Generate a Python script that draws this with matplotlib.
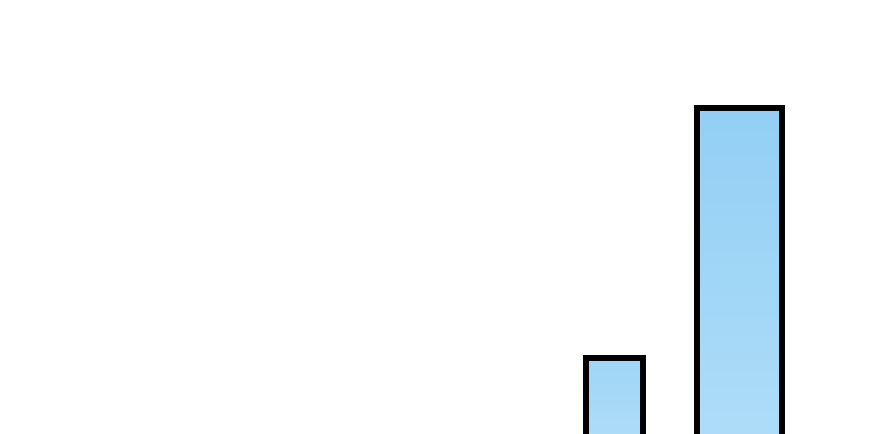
import numpy as np
import matplotlib.pyplot as plt
from matplotlib.colors import LinearSegmentedColormap

categories = ['A', 'B']
values = [40, 140]
bar_widths = [0.456, 0.68]

fig = plt.figure(figsize=(8.8, 4.34), dpi=100)
ax = fig.add_axes([0, 0, 1, 1])
ax.set_axis_off()

x = np.arange(len(categories))
bars = ax.bar(x, values, width=bar_widths, facecolor='none',
              edgecolor='black', linewidth=4.3, zorder=3)
for b in bars:
    b.set_joinstyle('miter')

# vertical gradient inside each bar, shorter bars get a softer gradient
cmap = LinearSegmentedColormap.from_list('sky', ['#b0def9', '#93cff5'])
hmax = max(values)
for b in bars:
    x0, y0 = b.get_x(), b.get_y()
    w, h = b.get_width(), b.get_height()
    top = np.sqrt(h / hmax)
    grad = np.linspace(0, top, 256).reshape(-1, 1)
    im = ax.imshow(grad, cmap=cmap, vmin=0, vmax=1, origin='lower',
                   aspect='auto', extent=[x0, x0 + w, y0, y0 + h], zorder=2)
    im.set_clip_path(b)

ax.set_xlim(-4.916, 2.124)
ax.set_ylim(9.6, 183.2)

fig.savefig('out.png', dpi=100)
